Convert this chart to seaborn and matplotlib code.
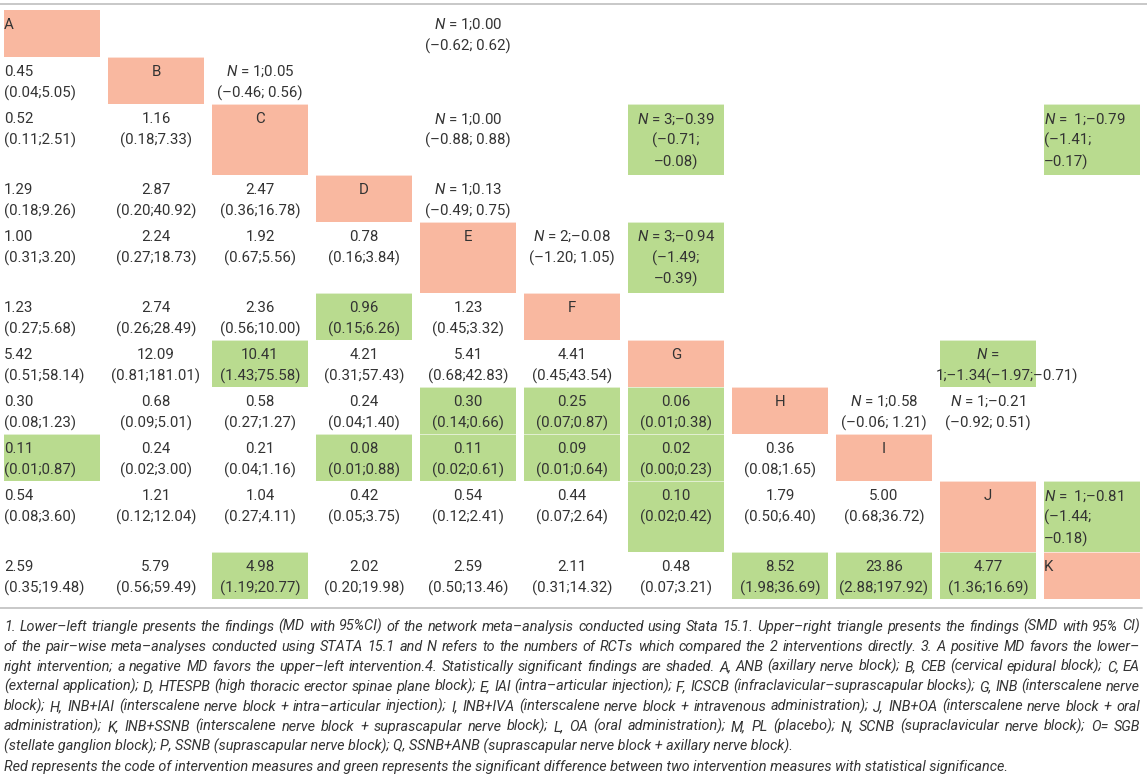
import numpy as np
import matplotlib
matplotlib.use('Agg')
import matplotlib.pyplot as plt
import seaborn as sns
from matplotlib.colors import ListedColormap

labels = ['A', 'B', 'C', 'D', 'E', 'F', 'G', 'H', 'I', 'J', 'K']
row_lines = [2, 2, 3, 2, 3, 2, 2, 2, 2, 3, 2]

# lower-left triangle: MD (95% CI) from network meta-analysis
lower_md = [
    [],
    ['0.45'],
    ['0.52', '1.16'],
    ['1.29', '2.87', '2.47'],
    ['1.00', '2.24', '1.92', '0.78'],
    ['1.23', '2.74', '2.36', '0.96', '1.23'],
    ['5.42', '12.09', '10.41', '4.21', '5.41', '4.41'],
    ['0.30', '0.68', '0.58', '0.24', '0.30', '0.25', '0.06'],
    ['0.11', '0.24', '0.21', '0.08', '0.11', '0.09', '0.02', '0.36'],
    ['0.54', '1.21', '1.04', '0.42', '0.54', '0.44', '0.10', '1.79', '5.00'],
    ['2.59', '5.79', '4.98', '2.02', '2.59', '2.11', '0.48', '8.52', '23.86', '4.77'],
]
lower_ci = [
    [],
    ['0.04;5.05'],
    ['0.11;2.51', '0.18;7.33'],
    ['0.18;9.26', '0.20;40.92', '0.36;16.78'],
    ['0.31;3.20', '0.27;18.73', '0.67;5.56', '0.16;3.84'],
    ['0.27;5.68', '0.26;28.49', '0.56;10.00', '0.15;6.26', '0.45;3.32'],
    ['0.51;58.14', '0.81;181.01', '1.43;75.58', '0.31;57.43', '0.68;42.83', '0.45;43.54'],
    ['0.08;1.23', '0.09;5.01', '0.27;1.27', '0.04;1.40', '0.14;0.66', '0.07;0.87', '0.01;0.38'],
    ['0.01;0.87', '0.02;3.00', '0.04;1.16', '0.01;0.88', '0.02;0.61', '0.01;0.64', '0.00;0.23', '0.08;1.65'],
    ['0.08;3.60', '0.12;12.04', '0.27;4.11', '0.05;3.75', '0.12;2.41', '0.07;2.64', '0.02;0.42',
     '0.50;6.40', '0.68;36.72'],
    ['0.35;19.48', '0.56;59.49', '1.19;20.77', '0.20;19.98', '0.50;13.46', '0.31;14.32', '0.07;3.21',
     '1.98;36.69', '2.88;197.92', '1.36;16.69'],
]
lower_sig = [(5, 3), (6, 2), (7, 4), (7, 5), (7, 6), (8, 0), (8, 3), (8, 4), (8, 5), (8, 6),
             (9, 6), (10, 2), (10, 7), (10, 8), (10, 9)]

# upper-right triangle: pair-wise SMD (95% CI), N = number of RCTs
pw_row = [0, 1, 2, 2, 2, 3, 4, 4, 6, 7, 7, 9]
pw_col = [4, 2, 4, 6, 10, 4, 5, 6, 9, 8, 9, 10]
pw_n = [1, 1, 1, 3, 1, 1, 2, 3, 1, 1, 1, 1]
pw_smd = ['0.00', '0.05', '0.00', '–0.39', '–0.79', '0.13', '–0.08', '–0.94', '–1.34', '0.58', '–0.21', '–0.81']
pw_lo = ['–0.62', '–0.46', '–0.88', '–0.71', '–1.41', '–0.49', '–1.20', '–1.49', '–1.97', '–0.06', '–0.92', '–1.44']
pw_hi = ['0.62', '0.56', '0.88', '–0.08', '–0.17', '0.75', '1.05', '–0.39', '–0.71', '1.21', '0.51', '–0.18']
pw_sig = [False, False, False, True, True, False, False, True, True, False, False, True]
odd_cell = (6, 9)  # typeset without wrapping in the source table

footnote_lines = [
    "1. Lower–left triangle presents the findings (MD with 95%CI) of the network meta–analysis conducted using Stata 15.1. Upper–right triangle presents the findings (SMD with 95% CI)",
    "of the pair–wise meta–analyses conducted using STATA 15.1 and N refers to the numbers of RCTs which compared the 2 interventions directly. 3. A positive MD favors the lower–",
    "right intervention; a negative MD favors the upper–left intervention.4. Statistically significant findings are shaded. A, ANB (axillary nerve block); B, CEB (cervical epidural block); C, EA",
    "(external application); D, HTESPB (high thoracic erector spinae plane block); E, IAI (intra–articular injection); F, ICSCB (infraclavicular–suprascapular blocks); G, INB (interscalene nerve",
    "block); H, INB+IAI (interscalene nerve block + intra–articular injection); I, INB+IVA (interscalene nerve block + intravenous administration); J, INB+OA (interscalene nerve block + oral",
    "administration); K, INB+SSNB (interscalene nerve block + suprascapular nerve block); L, OA (oral administration); M, PL (placebo); N, SCNB (supraclavicular nerve block); O= SGB",
    "(stellate ganglion block); P, SSNB (suprascapular nerve block); Q, SSNB+ANB (suprascapular nerve block + axillary nerve block).",
    "Red represents the code of intervention measures and green represents the significant difference between two intervention measures with statistical significance.",
]
justified = [True, True, True, True, True, True, False, False]

SALMON = '#f9b8a0'
GREEN = '#b9db8f'
TXT = '#333333'
W, H = 1147, 778

sns.set_theme(style='white')
plt.rcParams['font.family'] = ['Roboto', 'DejaVu Sans']
plt.rcParams['mathtext.fontset'] = 'custom'
plt.rcParams['mathtext.rm'] = 'Roboto'
plt.rcParams['mathtext.it'] = 'Roboto:italic'

n = len(labels)
codes = np.zeros((n, n), dtype=int)
for i in range(n):
    codes[i, i] = 1
for r, c in lower_sig:
    codes[r, c] = 2
for r, c, s in zip(pw_row, pw_col, pw_sig):
    if s:
        codes[r, c] = 2

# each table row is split into sub-rows, one per text line
grid = np.repeat(codes, row_lines, axis=0)
starts = np.concatenate([[0], np.cumsum(row_lines)[:-1]])
n_sub = grid.shape[0]

top_px, bottom_px, pitch = 10, 599, 104
unit = (bottom_px - top_px) / n_sub
FS = 10.8

fig = plt.figure(figsize=(W / 100, H / 100), dpi=100)
ax = fig.add_axes([0, 1 - bottom_px / H, pitch * n / W, (bottom_px - top_px) / H])
sns.heatmap(grid, mask=grid == 0, cmap=ListedColormap([SALMON, GREEN]), vmin=0.5, vmax=2.5,
            cbar=False, ax=ax, xticklabels=False, yticklabels=False)
for x in range(n + 1):
    ax.axvline(x, color='white', lw=8 * 0.72)
for y in starts[1:]:
    ax.axhline(y, color='white', lw=0.7, alpha=0.6)
ax.set_axis_off()


def cell_text(r, c, lines, left=None):
    if left is None:
        left = c in (0, n - 1)
    for k, line in enumerate(lines):
        y = starts[r] + (19 + 21.5 * k) / unit
        if left:
            ax.text(c + 4 / pitch, y, line, ha='left', va='baseline', fontsize=FS, color=TXT)
        else:
            ax.text(c + 0.5, y, line, ha='center', va='baseline', fontsize=FS, color=TXT)


for i, lab in enumerate(labels):
    cell_text(i, i, [lab])

for r in range(n):
    for c, (md, ci) in enumerate(zip(lower_md[r], lower_ci[r])):
        cell_text(r, c, [md, '(' + ci + ')'])

for r, c, k, smd, lo, hi in zip(pw_row, pw_col, pw_n, pw_smd, pw_lo, pw_hi):
    if (r, c) == odd_cell:
        cell_text(r, c, ['$N$ ='])
        ax.text(c, starts[r] + (19 + 21.5) / unit, f'{k};{smd}({lo};{hi})', ha='left',
                va='baseline', fontsize=FS, color=TXT)
        continue
    eq = '$N$ =  ' if c == n - 1 else '$N$ = '
    ci = f'({lo}; {hi})'
    if len(ci) > 13:
        lines = [f'{eq}{k};{smd}', f'({lo};', f'{hi})']
    else:
        lines = [f'{eq}{k};{smd}', ci]
    cell_text(r, c, lines)

# horizontal rules
fig.add_artist(plt.Line2D([0, 1], [1 - 4 / H, 1 - 4 / H], color='#c4c4c4', lw=1.3))
fig.add_artist(plt.Line2D([0, 1142 / W], [1 - 608 / H, 1 - 608 / H], color='#c4c4c4', lw=1.3))

# footnote, first lines justified to the table width
renderer = fig.canvas.get_renderer()
for k, (line, just) in enumerate(zip(footnote_lines, justified)):
    y = 1 - (631 + 20 * k) / H
    style = dict(fontsize=10.35, fontstyle='italic', color=TXT, va='baseline')
    if not just:
        fig.text(4 / W, y, line, ha='left', **style)
        continue
    words = line.split(' ')
    arts = [fig.text(0, y, w, ha='left', **style) for w in words]
    widths = [a.get_window_extent(renderer).width for a in arts]
    gap = (1140 - 4 - sum(widths)) / (len(words) - 1)
    x = 4
    for a, wd in zip(arts, widths):
        a.set_x(x / W)
        x += wd + gap

fig.savefig('out.png', dpi=100)
